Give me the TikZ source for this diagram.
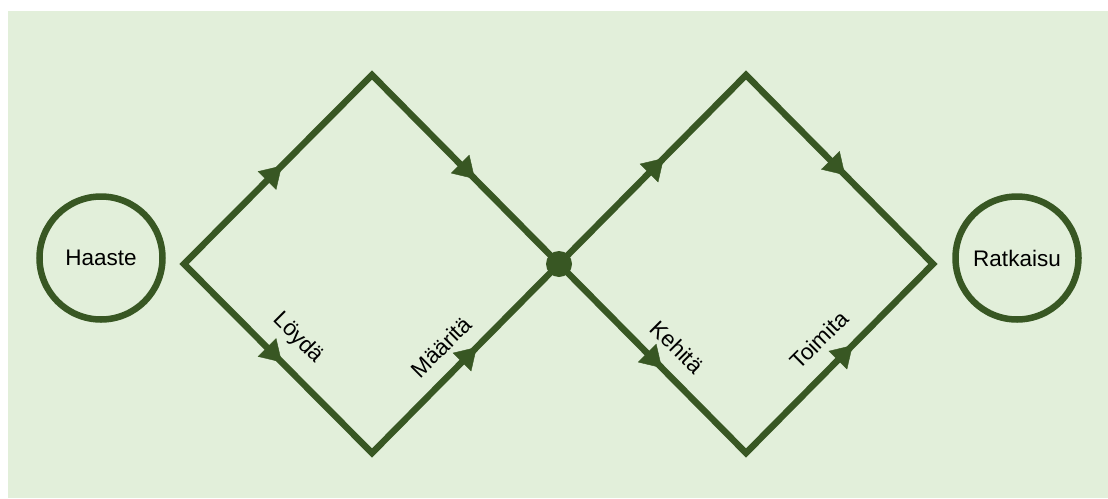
\documentclass[tikz,border=0pt]{standalone}
\usepackage{fontspec}
\setmainfont{Liberation Sans}
\usetikzlibrary{arrows.meta,decorations.markings}
\definecolor{bgc}{HTML}{E2EFDA}
\definecolor{dg}{HTML}{385723}
\begin{document}
\begin{tikzpicture}[x=1pt,y=-1pt,
  flowline/.style={draw=dg, line width=6.5pt, line join=miter},
  arrowmark/.style={color=dg, decoration={markings, mark=at position #1 with {\arrow{Triangle[length=21pt,width=26pt]}}}, postaction={decorate}},
  ring/.style={circle, draw=dg, line width=6.5pt, minimum size=123pt, inner sep=0pt, font=\fontsize{22.5}{26}\selectfont},
  lbl/.style={font=\fontsize{22.5}{26}\selectfont, inner sep=0pt}]
\useasboundingbox (0,0) rectangle (1108,498);
\fill[bgc] (8,11) rectangle (1108,498);
\coordinate (L) at (184,264);
\coordinate (T1) at (372,75);
\coordinate (C) at (559,264);
\coordinate (B1) at (372,453);
\coordinate (T2) at (746,75);
\coordinate (R) at (933,264);
\coordinate (B2) at (746,453);
\draw[flowline] (L) -- (T1) -- (C) -- (T2) -- (R) -- (B2) -- (C) -- (B1) -- cycle;
\path[arrowmark=0.52] (L) -- (T1);
\path[arrowmark=0.55] (T1) -- (C);
\path[arrowmark=0.52] (L) -- (B1);
\path[arrowmark=0.56] (B1) -- (C);
\path[arrowmark=0.56] (C) -- (T2);
\path[arrowmark=0.53] (T2) -- (R);
\path[arrowmark=0.55] (C) -- (B2);
\path[arrowmark=0.57] (B2) -- (R);
\node[circle, fill=dg, minimum size=26pt, inner sep=0pt] (dot) at (C) {};
\node[ring] (haaste) at (101,258) {Haaste};
\node[ring] (ratkaisu) at (1017,258) {Ratkaisu};
\node[lbl, rotate=-45] (loyda) at (298,338) {Löydä};
\node[lbl, rotate=45] (maarita) at (441,347) {Määritä};
\node[lbl, rotate=-45] (kehita) at (677,347) {Kehitä};
\node[lbl, rotate=45] (toimita) at (819,340) {Toimita};
\end{tikzpicture}
\end{document}
